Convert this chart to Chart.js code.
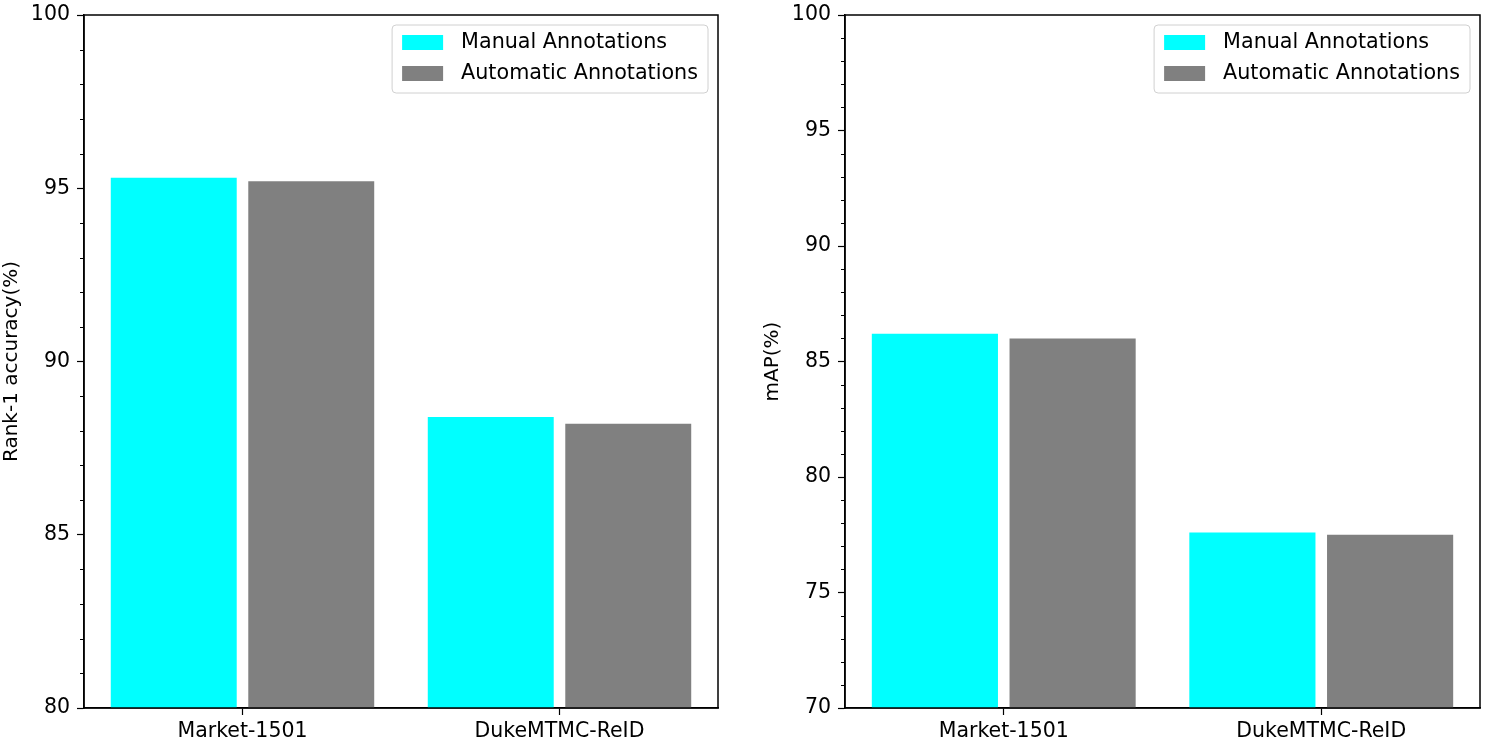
<!DOCTYPE html>
<html>
<head>
<meta charset="utf-8">
<script src="https://cdn.jsdelivr.net/npm/chart.js@4.4.0/dist/chart.umd.min.js"></script>
<style>
  body { margin: 0; background: #fff; }
  .panel { position: absolute; top: 0; }
</style>
</head>
<body>
<div class="panel" style="left:0px;"><canvas id="rankChart" width="740" height="750"></canvas></div>
<div class="panel" style="left:761px;"><canvas id="mapChart" width="728" height="750"></canvas></div>
<script>
// data
const categories = ['Market-1501', 'DukeMTMC-ReID'];
const seriesNames = ['Manual Annotations', 'Automatic Annotations'];
const seriesColors = ['#00ffff', '#808080'];

const rank1Manual = [95.3, 88.4];
const rank1Auto = [95.2, 88.2];
const rank1Range = [80, 100];

const mapManual = [86.2, 77.6];
const mapAuto = [86.0, 77.5];
const mapRange = [70, 100];

const FONT = "'DejaVu Sans', sans-serif";
const FSIZE = 20.5;

// frame, minor ticks and matplotlib-style legend box
const framePlugin = {
    id: 'frame',
    afterDraw(chart) {
        const ctx = chart.ctx;
        const area = chart.chartArea;
        const y = chart.scales.y;
        ctx.save();

        // minor ticks every 1 unit
        ctx.strokeStyle = '#000';
        ctx.lineWidth = 1;
        for (let v = y.min; v <= y.max; v++) {
            if (v % 5 === 0) continue;
            const py = Math.round(y.getPixelForValue(v)) + 0.5;
            ctx.beginPath();
            ctx.moveTo(area.left - 4, py);
            ctx.lineTo(area.left, py);
            ctx.stroke();
        }

        // spines
        ctx.lineWidth = 1.5;
        ctx.strokeRect(area.left, area.top, area.right - area.left, area.bottom - area.top);

        // legend
        ctx.font = '20.7px ' + FONT;
        let maxW = 0;
        chart.data.datasets.forEach(ds => {
            maxW = Math.max(maxW, ctx.measureText(ds.label).width);
        });
        const boxW = 10 + 41 + 18 + maxW + 10;
        const boxH = 68;
        const bx = area.right - 10 - boxW;
        const by = area.top + 10;
        ctx.beginPath();
        ctx.roundRect(bx, by, boxW, boxH, 4);
        ctx.fillStyle = 'rgba(255,255,255,0.8)';
        ctx.fill();
        ctx.strokeStyle = '#d0d0d0';
        ctx.lineWidth = 1;
        ctx.stroke();

        chart.data.datasets.forEach((ds, i) => {
            const cy = by + 17.5 + i * 31;
            ctx.fillStyle = ds.backgroundColor;
            ctx.fillRect(bx + 10, cy - 7.5, 41, 15);
            ctx.fillStyle = '#000';
            ctx.textBaseline = 'middle';
            ctx.textAlign = 'left';
            ctx.fillText(ds.label, bx + 10 + 41 + 18, cy);
        });
        ctx.restore();
    }
};

function makeChart(id, manual, auto, range, yTitle, padRight) {
    return new Chart(document.getElementById(id), {
        type: 'bar',
        data: {
            labels: categories,
            datasets: [{
                label: seriesNames[0],
                data: manual,
                backgroundColor: seriesColors[0]
            }, {
                label: seriesNames[1],
                data: auto,
                backgroundColor: seriesColors[1]
            }]
        },
        options: {
            responsive: false,
            animation: false,
            datasets: {
                bar: {
                    categoryPercentage: 0.8675,
                    barPercentage: 0.916,
                    borderWidth: 0
                }
            },
            layout: {
                padding: { top: 15, right: padRight, bottom: 0, left: 0 }
            },
            plugins: {
                legend: { display: false },
                tooltip: { enabled: false }
            },
            scales: {
                x: {
                    offset: true,
                    grid: {
                        offset: false,
                        drawOnChartArea: false,
                        tickLength: 7,
                        tickColor: '#000',
                        tickWidth: 1.2
                    },
                    border: { color: '#000', width: 1.5 },
                    ticks: {
                        color: '#000',
                        font: { family: FONT, size: FSIZE },
                        padding: 4,
                        maxRotation: 0
                    },
                    afterFit(scale) {
                        scale.height = 42;
                        scale.paddingLeft = 0;
                        scale.paddingRight = 0;
                    }
                },
                y: {
                    min: range[0],
                    max: range[1],
                    grid: {
                        drawOnChartArea: false,
                        tickLength: 7,
                        tickColor: '#000',
                        tickWidth: 1.2
                    },
                    border: { color: '#000', width: 1.5 },
                    ticks: {
                        stepSize: 5,
                        color: '#000',
                        font: { family: FONT, size: FSIZE },
                        padding: 7
                    },
                    title: {
                        display: true,
                        text: yTitle,
                        color: '#000',
                        font: { family: FONT, size: 20 },
                        padding: { top: 0, bottom: 0 }
                    },
                    afterFit(scale) {
                        scale.width = 84;
                        scale.paddingTop = 0;
                        scale.paddingBottom = 0;
                    }
                }
            }
        },
        plugins: [framePlugin]
    });
}

makeChart('rankChart', rank1Manual, rank1Auto, rank1Range, 'Rank-1 accuracy(%)', 22);
makeChart('mapChart', mapManual, mapAuto, mapRange, 'mAP(%)', 9);
</script>
</body>
</html>
